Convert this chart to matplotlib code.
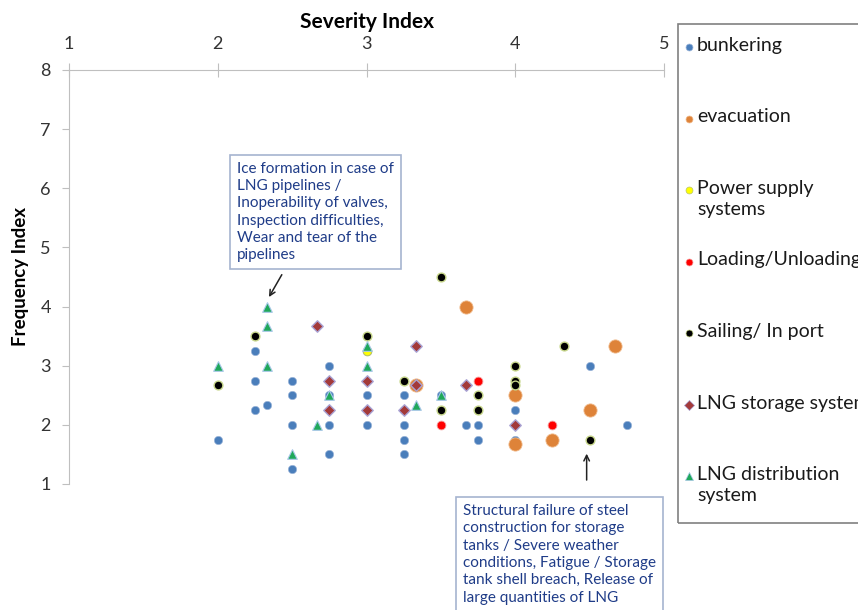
import matplotlib.pyplot as plt
from matplotlib.patches import Rectangle
from matplotlib.lines import Line2D

plt.rcParams['font.family'] = ['Lato', 'DejaVu Sans']

# severity (x), frequency (y) per group
bunk_x = [2, 2.25, 2.25, 2.25, 2.33, 2.5, 2.5, 2.5, 2.5, 2.75, 2.75, 2.75, 2.75, 2.75,
          3, 3, 3, 3.25, 3.25, 3.25, 3.25, 3.25, 3.25, 3.5, 3.5, 3.67, 3.75, 3.75,
          4, 4, 4, 4.5, 4.75]
bunk_y = [1.75, 3.25, 2.75, 2.25, 2.33, 2.75, 2.5, 2.0, 1.25, 3.0, 2.75, 2.5, 2.0, 1.5,
          3.25, 2.5, 2.0, 2.5, 2.25, 2.0, 1.75, 1.5, 2.25, 2.5, 2.25, 2.0, 2.0, 1.75,
          2.25, 2.0, 1.75, 3.0, 2.0]
evac_x = [3.33, 3.67, 4, 4, 4.25, 4.5, 4.67]
evac_y = [2.67, 4.0, 2.5, 1.67, 1.75, 2.25, 3.33]
power_x = [3]
power_y = [3.25]
load_x = [3.5, 3.75, 4.25]
load_y = [2.0, 2.75, 2.0]
sail_x = [2, 2.25, 3, 3.25, 3.5, 3.5, 3.75, 3.75, 4, 4, 4, 4.33, 4.5]
sail_y = [2.67, 3.5, 3.5, 2.75, 4.5, 2.25, 2.5, 2.25, 3.0, 2.75, 2.67, 3.33, 1.75]
stor_x = [2.67, 2.75, 2.75, 3, 3, 3.33, 3.33, 3.25, 3.67, 4]
stor_y = [3.67, 2.75, 2.25, 2.75, 2.25, 3.33, 2.67, 2.25, 2.67, 2.0]
dist_x = [2, 2.33, 2.33, 2.33, 2.5, 2.67, 2.75, 3, 3, 3.33, 3.5]
dist_y = [3, 4.0, 3.67, 3.0, 1.5, 2.0, 2.5, 3.33, 3.0, 2.33, 2.5]

names = ['bunkering', 'evacuation', 'Power supply\nsystems', 'Loading/Unloading',
         'Sailing/ In port', 'LNG storage system', 'LNG distribution\nsystem']

W, H = 858, 610
fig = plt.figure(figsize=(W / 100, H / 100), dpi=100)
ax = fig.add_axes([69 / W, 1 - 484 / H, (664 - 69) / W, (484 - 70) / H])

styles = [
    (bunk_x, bunk_y, dict(marker='o', s=36, color='#4A7EBB', edgecolors='#9DB6D9', linewidths=0.5)),
    (evac_x, evac_y, dict(marker='o', s=90, color='#DE8339', edgecolors='#F0B98A', linewidths=0.6)),
    (power_x, power_y, dict(marker='o', s=38, color='#FFFF00', edgecolors='#B8C46A', linewidths=0.8)),
    (load_x, load_y, dict(marker='o', s=40, color='#FF0000', edgecolors='#F4A0A0', linewidths=0.6)),
    (sail_x, sail_y, dict(marker='o', s=40, color='#000000', edgecolors='#C7D68A', linewidths=1.0)),
    (stor_x, stor_y, dict(marker='D', s=34, color='#A33A3A', edgecolors='#A9A3D4', linewidths=1.0)),
    (dist_x, dist_y, dict(marker='^', s=48, color='#1FA85A', edgecolors='#A8C8E8', linewidths=0.8)),
]
for i, (xs, ys, kw) in enumerate(styles):
    ax.scatter(xs, ys, zorder=3 + i, clip_on=False, **kw)

ax.set_xlim(1, 5)
ax.set_ylim(1, 8)
ax.xaxis.tick_top()
ax.xaxis.set_label_position('top')
ax.set_xticks([1, 2, 3, 4, 5])
ax.set_yticks(range(1, 9))
for s in ['bottom', 'right']:
    ax.spines[s].set_visible(False)
for s in ['top', 'left']:
    ax.spines[s].set_color('#BFBFBF')
ax.tick_params(axis='x', direction='inout', length=10, color='#BFBFBF', labelsize=13,
               labelcolor='#333333', pad=8)
ax.tick_params(axis='y', direction='out', length=5, color='#BFBFBF', labelsize=13,
               labelcolor='#333333', pad=8)
ax.set_xlabel('Severity Index', fontsize=15, fontweight='bold', labelpad=6)
ax.set_ylabel('Frequency Index', fontsize=13.5, fontweight='bold', labelpad=8)
ax.patch.set_alpha(0)

# annotations
tc = '#1F3C88'
bb = dict(boxstyle='square,pad=0.45', fc='white', ec='#A5B4D0', lw=1.2)
ax.text(2.13, 6.45, 'Ice formation in case of\nLNG pipelines /\nInoperability of valves,\n'
        'Inspection difficulties,\nWear and tear of the\npipelines',
        fontsize=11, color=tc, va='top', ha='left', linespacing=1.3, bbox=bb, zorder=10)
ax.annotate('', xy=(2.335, 4.12), xytext=(2.44, 4.58),
            arrowprops=dict(arrowstyle='->', color='#222222', lw=1.1))
ax.text(3.65, 0.66, 'Structural failure of steel\nconstruction for storage\ntanks / Severe weather\n'
        'conditions, Fatigue / Storage\ntank shell breach, Release of\nlarge quantities of LNG',
        fontsize=11, color=tc, va='top', ha='left', linespacing=1.3, bbox=bb, zorder=10,
        clip_on=False)
ax.annotate('', xy=(4.48, 1.56), xytext=(4.48, 1.02), annotation_clip=False,
            arrowprops=dict(arrowstyle='->', color='#222222', lw=1.1))

# legend box
fig.add_artist(Rectangle((678 / W, 1 - 523 / H), 200 / W, (523 - 24) / H,
                         transform=fig.transFigure, fill=False, ec='#808080', lw=1.2))
for i, (xs, ys, kw) in enumerate(styles):
    yy = 1 - (47 + 71.5 * i) / H
    fig.add_artist(Line2D([689 / W], [yy], transform=fig.transFigure, ls='none',
                          marker=kw['marker'], markersize=5 if kw['marker'] != '^' else 6,
                          color=kw['color'], markeredgecolor=kw['edgecolors'], markeredgewidth=0.5))
    fig.text(697 / W, yy + 10 / H, names[i], fontsize=14, color='#1A1A1A', va='top', ha='left',
             linespacing=1.3)

fig.savefig('out.png', dpi=100)
